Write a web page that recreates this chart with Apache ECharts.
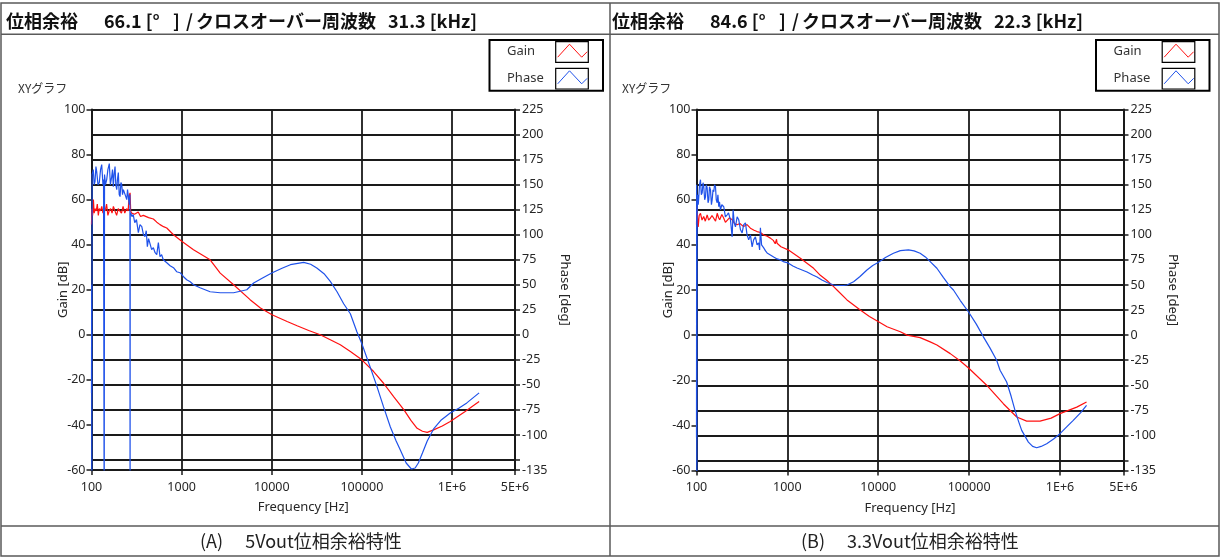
<!DOCTYPE html>
<html><head><meta charset="utf-8">
<script src="https://cdn.jsdelivr.net/npm/echarts@6/dist/echarts.min.js"></script>
<style>html,body{margin:0;padding:0;background:#fff}#c{width:1220px;height:559px}</style>
</head><body><div id="c"></div>
<script>
// ---------- texts ----------
const titleA = ['位相余裕', '66.1 [°', ']', '/', 'クロスオーバー周波数', '31.3 [kHz]'];
const titleB = ['位相余裕', '84.6 [°', ']', '/', 'クロスオーバー周波数', '22.3 [kHz]'];
const captionA = '(A)　 5Vout位相余裕特性';
const captionB = '(B)　 3.3Vout位相余裕特性';
const graphLabel = 'XYグラフ';
const legendNames = ['Gain', 'Phase'];

// ---------- tick labels ----------
const freqTicks = [100, 1000, 10000, 100000, 1000000, 5000000];
const freqTickLabels = ['100', '1000', '10000', '100000', '1E+6', '5E+6'];
const gainTicks = [-60, -40, -20, 0, 20, 40, 60, 80, 100];
const phaseTicks = [-135, -125, -100, -75, -50, -25, 0, 25, 50, 75, 100, 125, 150, 175, 200, 225];
const phaseLabelTicks = [-135, -100, -75, -50, -25, 0, 25, 50, 75, 100, 125, 150, 175, 200, 225];

// ---------- series values [frequency Hz, value] ----------
const gainA = [[100,49],[100.8,56],[103,53],[105,60],[107,54],[110,56],[113,55],[116,58],[119,53],[122,56],[126,55],[130,57],[134,54],[138,56],[142,55],[147,58],[152,53],[157,55],[163,56],[169,54],[175,57],[182,55],[190,53],[198,56],[206,55],[215,54],[224,57],[234,54],[245,56],[255,55],[262,62],[268,63],[272,55],[279,54],[300,53.5],[330,54.5],[350,52.5],[376,53],[430,52],[486,51.4],[530,50],[576,48.9],[630,48],[684,47.4],[812,44.4],[1003,41.5],[1354,37.8],[2071,33.3],[2680,27.4],[3774,22.2],[5750,15.6],[7488,11.9],[10060,8.9],[14800,5.9],[19100,4.0],[25700,1.9],[34500,0],[44600,-2.2],[57600,-4.4],[74500,-7.4],[100000,-11.1],[135000,-16.3],[174000,-21.5],[225000,-27.4],[293000,-33.3],[350000,-38],[410000,-41.5],[470000,-42.8],[531000,-43.3],[625000,-42.2],[780000,-40.5],[956000,-38.5],[1400000,-34],[2000000,-29.6]];

const phaseA = [[100,-58],[100.4,50],[100.8,-200],[101.5,160],[104.7,165],[107,150],[109.4,153],[112,168],[114.2,163],[118,150],[122,152],[126,165],[129.8,170],[134,150],[136,155],[138.3,-200],[139.5,160],[143,150],[147.5,155],[152,165],[157.6,171],[162,150],[167.6,158],[171,165],[174.6,148],[178,160],[182.5,168],[186,150],[190.6,145],[194,155],[198.5,162],[203,140],[207.4,138],[212,152],[216.6,150],[221,140],[225.8,145],[236,140],[246.1,135],[251,145],[256.5,138],[262,130],[267,140],[268,-200],[269,120],[272,122],[281,118],[290.1,120],[302,112],[315.4,115],[331,102],[345,110],[361.5,108],[377,100],[392.2,98],[405,104],[416.5,88],[430,96],[446.6,95],[465,85],[485.7,87],[508,82],[530,80],[552,92],[575.5,78],[600,80],[625.7,75],[655,74],[684.5,72],[745,69],[812,67],[880,63],[961,62],[1050,58],[1138,55],[1245,53],[1354,50],[1600,47],[2071,43],[2680,42],[3774,42],[5286,45],[6297,51.7],[8000,57],[10000,61.7],[13000,66.5],[16100,70],[22600,72.3],[27000,70.5],[31600,66.7],[38000,61],[44600,53.3],[53000,43],[62800,31],[74500,21],[88000,3],[100000,-9],[119000,-28],[145000,-50],[174000,-72],[207000,-92],[240000,-106],[267000,-115],[310000,-128],[354000,-134],[390000,-133],[423000,-128],[470000,-118],[531000,-106],[625000,-94],[760000,-85],[956000,-78],[1200000,-73],[1460000,-68],[2000000,-58]];

const gainB = [[100,49],[100.8,57],[101.8,57],[104.4,48],[107,53],[110.6,54],[115,51],[120,52.6],[125,50.5],[131,53.3],[136,51],[142.5,51.9],[148,53],[155,52.6],[162,50.5],[169,54],[175,52],[180,51.1],[190,53.5],[199,51.9],[208,50],[217,50.4],[230,52],[247,51.1],[262,49.5],[280,48.9],[300,49.5],[330,48.1],[360,49],[392,47.4],[430,46.5],[464,45.9],[505,45.5],[549,44.4],[600,43.8],[650,43],[700,42],[735,40.5],[760,42.5],[770,40.7],[850,39.2],[1019,37.8],[1389,34.1],[1945,29.6],[2305,26.5],[2730,24.2],[3226,21.5],[3517,20],[4530,15.6],[6344,11.1],[8000,8.3],[10070,5.9],[12500,3.7],[17500,1.5],[20700,0],[28900,-1.1],[37300,-3.0],[44200,-4.4],[62000,-8.2],[80000,-11.5],[100000,-14.8],[156000,-22.2],[238000,-30.4],[334000,-36.3],[430000,-38.1],[603000,-38.1],[800000,-36.8],[1000000,-34.8],[1530000,-31.9],[1960000,-29.6]];

const phaseB = [[100,-102],[100.4,150],[100.8,-200],[101.5,120],[103,140],[104.5,130],[106,138],[108,150],[110.6,155],[113,140],[115.5,142],[118,152],[120.3,148],[123,135],[125.6,138],[128,150],[131,147],[134,132],[136.5,135],[139,148],[142.5,145],[146,130],[148.8,135],[152,145],[155,143],[158,150],[161.8,148],[165,135],[168.9,132],[172,140],[175.8,128],[179,133],[183.6,125],[190,130],[199.5,128],[208,118],[217.5,120],[225,122],[236.4,115],[246.8,98],[253,125],[260,112],[268.4,108],[280,118],[291.7,115],[305,105],[317.9,102],[330,110],[345.6,112],[360,100],[375.5,95],[392,100],[409.4,88],[425,95],[445,98],[464,90],[483.8,92],[495,85],[505,107],[520,90],[549,87],[575,84],[598,82],[650,80],[707,78],[770,76],[837,75],[920,73],[1018,72],[1150,69],[1279,67],[1450,65],[1646,63],[1900,60],[2121,58],[2400,55],[2731,52.5],[3226,50],[3517,49.5],[4159,49.5],[4529,50],[5354,53.3],[6300,58.5],[7510,65],[8700,69.5],[10070,72.7],[12000,77.5],[14700,81.7],[17500,84.3],[21500,85],[24800,84],[28900,81.7],[33000,78],[37300,73.3],[44200,66.7],[52000,57.5],[61800,48.3],[67200,45],[80000,34.5],[98200,23.3],[120000,11],[143600,-1.7],[170000,-13],[201000,-25],[219000,-35],[259000,-46.7],[290000,-61],[320000,-75],[350000,-86],[379000,-95],[449000,-106.7],[500000,-111],[554000,-112.3],[620000,-111],[714000,-108.3],[850000,-103.5],[1000000,-98.3],[1200000,-91],[1400000,-85],[1700000,-77],[1960000,-70]];

// ---------- styling / layout ----------
const RED = '#ff1010', BLUE = '#1f52ea';
const GRID_C = '#1a1a1a', TXT = '#262626';
const TICK_FONT = 12.5;
const FONT = '"Noto Sans", "Noto Sans CJK JP", sans-serif';
const JFONT = '"Noto Sans CJK JP", "Noto Sans", sans-serif';
const titleOffsets = [0, 98, 167, 180, 190, 382];

const panels = [
  {grid: {left: 91.5, top: 109.5, width: 423.5, height: 360.5}, title: titleA, caption: captionA, titleX: 6, capX: 200, labelX: 18, legX: 489.5},
  {grid: {left: 696.5, top: 109.5, width: 427, height: 361}, title: titleB, caption: captionB, titleX: 612, capX: 801, labelX: 622, legX: 1096}
];

function freqLabel(v) {
  const i = freqTicks.findIndex(t => Math.abs(Math.log10(t) - Math.log10(v)) < 1e-6);
  return i >= 0 ? freqTickLabels[i] : '';
}

const grids = [], xAxes = [], yAxes = [], series = [], graphic = [];
const seriesData = [[gainA, phaseA], [gainB, phaseB]];

panels.forEach((p, k) => {
  grids.push(p.grid);
  xAxes.push({
    type: 'log', logBase: 10, gridIndex: k, min: freqTicks[0], max: freqTicks[freqTicks.length - 1],
    axisLine: {onZero: false, lineStyle: {color: GRID_C, width: 2}},
    axisTick: {length: 5, lineStyle: {color: GRID_C, width: 1.5}},
    axisLabel: {formatter: freqLabel, fontSize: TICK_FONT, color: TXT, fontFamily: FONT, margin: 11},
    splitLine: {show: true, lineStyle: {color: GRID_C, width: 1.8}},
    minorTick: {show: false}, minorSplitLine: {show: false},
    name: 'Frequency [Hz]', nameLocation: 'middle', nameGap: 31, nameMoveOverlap: false,
    nameTextStyle: {fontSize: 13, color: TXT, fontFamily: FONT}
  });
  yAxes.push({
    type: 'value', gridIndex: k, position: 'left',
    min: gainTicks[0], max: gainTicks[gainTicks.length - 1], interval: gainTicks[1] - gainTicks[0],
    axisLine: {show: true, onZero: false, lineStyle: {color: GRID_C, width: 2}},
    axisTick: {show: true, length: 5, lineStyle: {color: GRID_C, width: 1.5}},
    axisLabel: {fontSize: TICK_FONT, color: TXT, fontFamily: FONT, margin: 6},
    splitLine: {show: false},
    name: 'Gain [dB]', nameLocation: 'middle', nameGap: 22, nameRotate: 90, nameMoveOverlap: false,
    nameTextStyle: {fontSize: 13, color: TXT, fontFamily: FONT}
  });
  yAxes.push({
    type: 'value', gridIndex: k, position: 'right',
    min: phaseTicks[0], max: phaseTicks[phaseTicks.length - 1],
    axisLine: {show: true, onZero: false, lineStyle: {color: GRID_C, width: 2}},
    axisTick: {show: true, length: 5, customValues: phaseTicks, lineStyle: {color: GRID_C, width: 1.5}},
    axisLabel: {fontSize: TICK_FONT, color: TXT, fontFamily: FONT, margin: 7, customValues: phaseLabelTicks},
    splitLine: {show: true, lineStyle: {color: GRID_C, width: 1.8}},
    name: 'Phase [deg]', nameLocation: 'middle', nameGap: 43, nameRotate: -90, nameMoveOverlap: false,
    nameTextStyle: {fontSize: 13, color: TXT, fontFamily: FONT}
  });
  const [g, ph] = seriesData[k];
  series.push({
    name: legendNames[0], type: 'line', xAxisIndex: k, yAxisIndex: 2 * k, data: g,
    showSymbol: false, symbol: 'none', clip: true, lineStyle: {color: RED, width: 1.2}, z: 3
  });
  series.push({
    name: legendNames[1], type: 'line', xAxisIndex: k, yAxisIndex: 2 * k + 1, data: ph,
    showSymbol: false, symbol: 'none', clip: true, lineStyle: {color: BLUE, width: 1.2}, z: 4
  });

  // title segments
  p.title.forEach((seg, i) => {
    graphic.push({type: 'text', x: p.titleX + titleOffsets[i], y: 21, style: {text: seg, font: 'bold 18px ' + JFONT, fill: '#111', verticalAlign: 'middle'}});
  });
  graphic.push({type: 'text', x: p.capX, y: 541, style: {text: p.caption, font: '18px ' + JFONT, fill: '#222', verticalAlign: 'middle'}});
  graphic.push({type: 'text', x: p.labelX, y: 88, style: {text: graphLabel, font: '12px ' + JFONT, fill: '#333', verticalAlign: 'middle'}});
  // legend box
  const lx = p.legX;
  graphic.push({type: 'rect', shape: {x: lx, y: 40, width: 113.5, height: 50.7}, style: {fill: '#fff', stroke: '#000', lineWidth: 2}, z: 10});
  [[legendNames[0], 51.7, 41.7, RED], [legendNames[1], 78.3, 68.3, BLUE]].forEach(([name, ty, sy, col]) => {
    graphic.push({type: 'text', x: lx + 17.5, y: ty, style: {text: name, font: '13px ' + FONT, fill: '#333', verticalAlign: 'middle'}, z: 11});
    const sx = lx + 66.2;
    graphic.push({type: 'rect', shape: {x: sx, y: sy, width: 32.6, height: 20.7}, style: {fill: '#fff', stroke: '#000', lineWidth: 1.2}, z: 11});
    graphic.push({type: 'polyline', shape: {points: [[sx + 2, sy + 15.5], [sx + 13.8, sy + 2.5], [sx + 26, sy + 15.5], [sx + 31.5, sy + 10]]}, style: {stroke: col, lineWidth: 1, fill: null}, z: 12});
  });
});

// table frame
const FRAME = '#5a5a5a';
graphic.push({type: 'rect', shape: {x: 1, y: 3, width: 1218, height: 553}, style: {fill: null, stroke: FRAME, lineWidth: 1.5}, z: 20});
graphic.push({type: 'line', shape: {x1: 1, y1: 34.3, x2: 1219, y2: 34.3}, style: {stroke: FRAME, lineWidth: 1.5}, z: 20});
graphic.push({type: 'line', shape: {x1: 1, y1: 526, x2: 1219, y2: 526}, style: {stroke: FRAME, lineWidth: 1.5}, z: 20});
graphic.push({type: 'line', shape: {x1: 610, y1: 3, x2: 610, y2: 556}, style: {stroke: FRAME, lineWidth: 1.5}, z: 20});

const chart = echarts.init(document.getElementById('c'), null, {renderer: 'canvas'});
chart.setOption({
  animation: false,
  backgroundColor: '#fff',
  grid: grids, xAxis: xAxes, yAxis: yAxes, series: series, graphic: graphic
});
</script></body></html>
